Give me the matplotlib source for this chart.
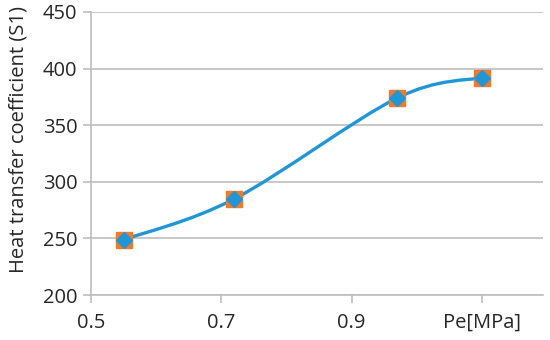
import matplotlib
matplotlib.use('Agg')
import matplotlib.pyplot as plt
from matplotlib.path import Path
from matplotlib.patches import PathPatch
import numpy as np

# data
pressure = [0.55, 0.72, 0.97, 1.10]
htc = [249, 285, 374, 392]
xticks = [0.5, 0.7, 0.9, 1.1]
xtick_labels = ['0.5', '0.7', '0.9', 'Pe[MPa]']
yticks = [200, 250, 300, 350, 400, 450]

line_color = '#1f96d6'
square_color = '#f07a2a'
grid_color = '#bdbdbd'

plt.rcParams['font.family'] = ['Open Sans', 'DejaVu Sans']


def smooth_path(xs, ys):
    # Excel-like smoothed line: cubic Bezier segments, Catmull-Rom control points
    pts = np.column_stack([xs, ys]).astype(float)
    n = len(pts)
    verts = [pts[0]]
    codes = [Path.MOVETO]
    for i in range(n - 1):
        p0 = pts[i - 1] if i > 0 else pts[i]
        p1 = pts[i]
        p2 = pts[i + 1]
        p3 = pts[i + 2] if i + 2 < n else pts[i + 1]
        c1 = p1 + (p2 - p0) / 6.0
        c2 = p2 - (p3 - p1) / 6.0
        verts += [c1, c2, p2]
        codes += [Path.CURVE4] * 3
    return Path(verts, codes)


fig = plt.figure(figsize=(5.5, 3.4), dpi=100)
ax = fig.add_axes([0.166, 0.132, 0.821, 0.833])

ax.add_patch(PathPatch(smooth_path(pressure, htc), facecolor='none',
                       edgecolor=line_color, lw=2.4, zorder=3))
ax.plot(pressure, htc, 's', color=square_color, markersize=11, zorder=4)
ax.plot(pressure, htc, 'D', color=line_color, markersize=8, zorder=5)

ax.set_xlim(0.5, 1.194)
ax.set_ylim(200, 450)
ax.set_xticks(xticks)
ax.set_xticklabels(xtick_labels)
ax.set_yticks(yticks)
ax.yaxis.grid(True, color=grid_color, lw=1.2)
ax.set_axisbelow(True)

for s in ['top', 'right']:
    ax.spines[s].set_visible(False)
for s in ['left', 'bottom']:
    ax.spines[s].set_color(grid_color)
    ax.spines[s].set_linewidth(1.2)

ax.tick_params(axis='both', colors=grid_color, length=6, width=1.2,
               labelsize=14.5, labelcolor='#262626')
ax.tick_params(axis='x', pad=7)
ax.tick_params(axis='y', pad=4)

ax.set_ylabel('Heat transfer coefficient (S1)', fontsize=14.5, color='#262626')
ax.yaxis.set_label_coords(-0.14, 0.55)

plt.savefig('out.png', dpi=100)
